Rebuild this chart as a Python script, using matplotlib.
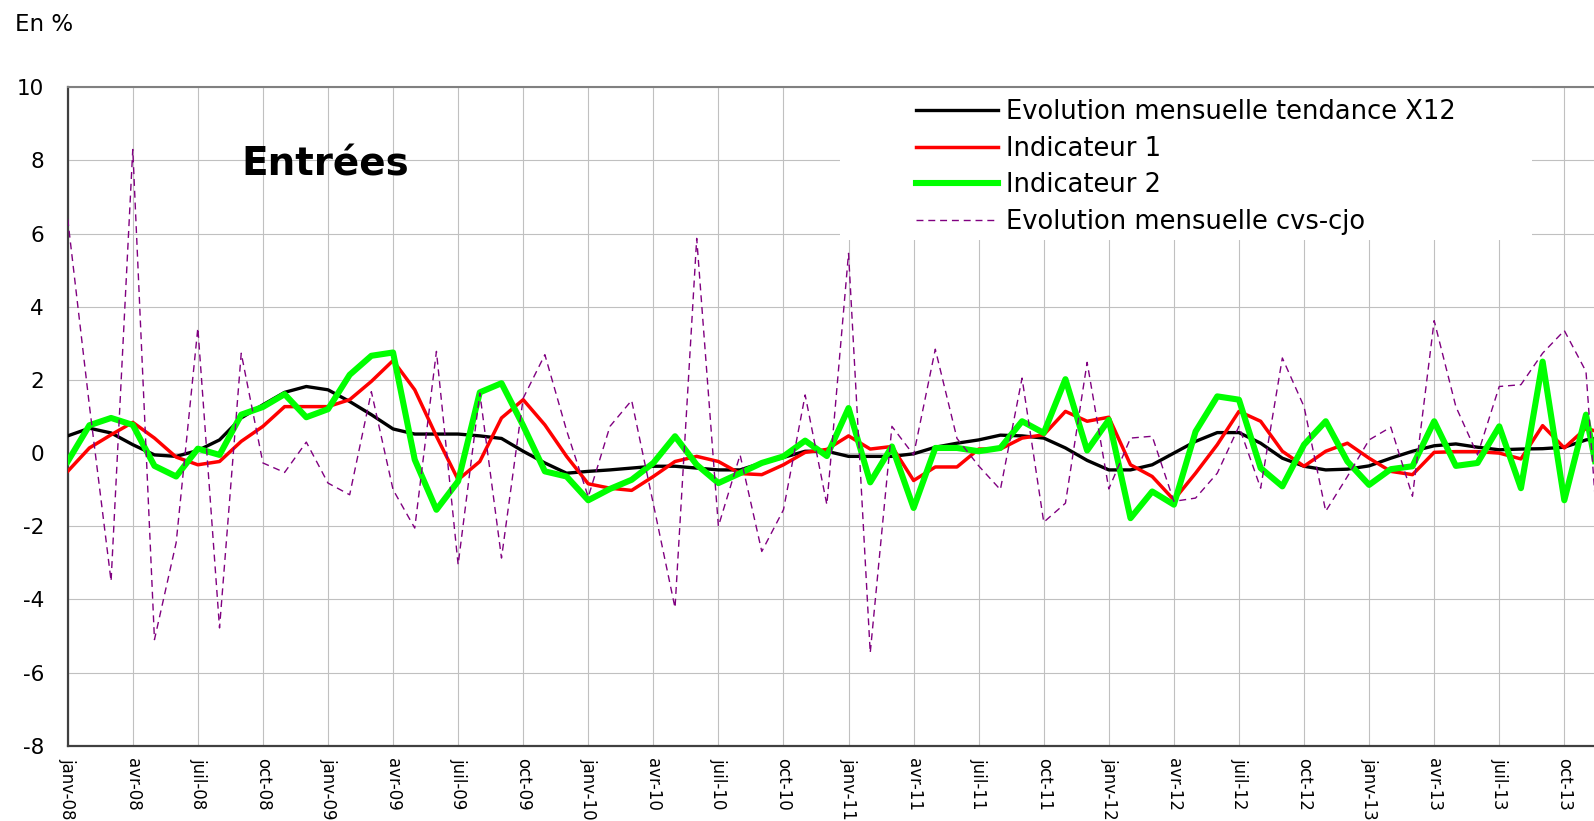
import numpy as np
import matplotlib
matplotlib.use('Agg')
import matplotlib.pyplot as plt
from matplotlib.patches import Rectangle

plt.rcParams['font.family'] = ['DejaVu Sans']
plt.rcParams['axes.unicode_minus'] = False

# monthly values, janv-08 .. dec-13
tendance = [0.47, 0.68, 0.55, 0.23, -0.05, -0.09, 0.07, 0.36, 0.96, 1.32, 1.66, 1.82,
            1.73, 1.41, 1.05, 0.66, 0.52, 0.52, 0.52, 0.47, 0.40, 0.05, -0.27, -0.55,
            -0.50, -0.46, -0.41, -0.36, -0.36, -0.41, -0.46, -0.46, -0.27, -0.12, 0.05, 0.05,
            -0.09, -0.09, -0.09, -0.02, 0.16, 0.27, 0.36, 0.49, 0.47, 0.41, 0.14, -0.20,
            -0.46, -0.46, -0.32, 0.00, 0.32, 0.56, 0.56, 0.27, -0.14, -0.36, -0.46, -0.44,
            -0.35, -0.14, 0.05, 0.20, 0.25, 0.16, 0.09, 0.11, 0.12, 0.16, 0.36, 0.45]

indic1 = [-0.50, 0.14, 0.50, 0.84, 0.41, -0.11, -0.32, -0.23, 0.32, 0.73, 1.27, 1.27,
          1.27, 1.46, 1.96, 2.53, 1.73, 0.46, -0.73, -0.23, 0.96, 1.46, 0.77, -0.09,
          -0.84, -0.96, -1.02, -0.64, -0.23, -0.09, -0.23, -0.56, -0.59, -0.32, 0.02, 0.10,
          0.47, 0.11, 0.18, -0.75, -0.38, -0.38, 0.11, 0.11, 0.41, 0.50, 1.14, 0.87,
          0.98, -0.32, -0.64, -1.28, -0.55, 0.23, 1.14, 0.87, 0.05, -0.36, 0.05, 0.27,
          -0.14, -0.50, -0.59, 0.02, 0.04, 0.04, 0.00, -0.16, 0.75, 0.14, 0.68, 0.50]

indic2 = [-0.23, 0.76, 0.96, 0.77, -0.35, -0.64, 0.12, -0.05, 1.05, 1.26, 1.61, 0.98,
          1.20, 2.14, 2.66, 2.75, -0.18, -1.55, -0.77, 1.66, 1.91, 0.75, -0.50, -0.64,
          -1.29, -0.98, -0.73, -0.27, 0.46, -0.32, -0.82, -0.55, -0.27, -0.09, 0.34, -0.08,
          1.23, -0.80, 0.18, -1.50, 0.14, 0.14, 0.05, 0.14, 0.87, 0.55, 2.02, 0.07,
          0.91, -1.78, -1.05, -1.41, 0.59, 1.55, 1.46, -0.41, -0.91, 0.23, 0.87, -0.23,
          -0.87, -0.44, -0.36, 0.87, -0.35, -0.27, 0.73, -0.96, 2.50, -1.29, 1.05, -2.00]

cvs_cjo = [6.40, 1.30, -3.50, 8.30, -5.10, -2.45, 3.42, -4.78, 2.73, -0.27, -0.53, 0.30,
           -0.82, -1.14, 1.68, -1.00, -2.05, 2.78, -3.05, 1.64, -2.87, 1.50, 2.69, 0.62,
           -1.20, 0.73, 1.44, -1.39, -4.23, 5.87, -2.00, -0.05, -2.69, -1.55, 1.59, -1.41,
           5.46, -5.46, 0.73, -0.05, 2.84, 0.40, -0.35, -1.00, 2.05, -1.89, -1.37, 2.48,
           -0.98, 0.41, 0.46, -1.32, -1.23, -0.55, 0.73, -0.96, 2.60, 1.27, -1.59, -0.64,
           0.36, 0.71, -1.18, 3.62, 1.27, -0.05, 1.82, 1.87, 2.73, 3.35, 2.23, -6.00]

tick_labels = ['janv-08', 'avr-08', 'juil-08', 'oct-08',
               'janv-09', 'avr-09', 'juil-09', 'oct-09',
               'janv-10', 'avr-10', 'juil-10', 'oct-10',
               'janv-11', 'avr-11', 'juil-11', 'oct-11',
               'janv-12', 'avr-12', 'juil-12', 'oct-12',
               'janv-13', 'avr-13', 'juil-13', 'oct-13']

W, H = 1594, 821
x0_px, top_px, bot_px = 67.7, 87.3, 745.7
px_month = 21.69

fig = plt.figure(figsize=(W / 100, H / 100), dpi=100)
ax = fig.add_axes([x0_px / W, 1 - bot_px / H, (W - x0_px) / W, (bot_px - top_px) / H])

x = np.arange(len(tendance))
ax.plot(x, tendance, color='black', lw=2.4, label='Evolution mensuelle tendance X12', zorder=3)
ax.plot(x, indic1, color='#ff0000', lw=2.5, label='Indicateur 1', zorder=3)
ax.plot(x, indic2, color='#00ff00', lw=4.4, label='Indicateur 2', zorder=3)
ax.plot(x, cvs_cjo, color='#800080', lw=1.0, ls=(0, (5, 3.5)),
        label='Evolution mensuelle cvs-cjo', zorder=3)

ax.set_xlim(0, (W - x0_px) / px_month)
ax.set_ylim(-8, 10)
ax.set_yticks(range(-8, 11, 2))
ax.set_xticks(range(0, 3 * len(tick_labels), 3))
ax.set_xticklabels(tick_labels, rotation=270, fontsize=12)
ax.tick_params(axis='y', length=0, pad=17, labelsize=15.5)
ax.tick_params(axis='x', length=0, pad=9)

ax.grid(True, color='#c0c0c0', lw=0.8)
ax.set_axisbelow(True)
ax.spines['right'].set_visible(False)
ax.spines['top'].set_color('#808080')
ax.spines['top'].set_linewidth(1.5)
for s in ['left', 'bottom']:
    ax.spines[s].set_color('#404040')
    ax.spines[s].set_linewidth(1.6)

# white block behind the legend (hides the grid there)
lx0 = (840 - x0_px) / (W - x0_px)
lx1 = (1532 - x0_px) / (W - x0_px)
ly0 = (bot_px - 240) / (bot_px - top_px)
ax.add_patch(Rectangle((lx0, ly0), lx1 - lx0, 1 - ly0, transform=ax.transAxes,
                       facecolor='white', edgecolor='none', zorder=1))

ax.legend(loc='upper left', bbox_to_anchor=(903 / W, 1 - 86 / H),
          bbox_transform=fig.transFigure, frameon=False, borderpad=0,
          fontsize=18.5, handlelength=3.2, handletextpad=0.3, labelspacing=0.42)

fig.text(15 / W, 1 - 31 / H, 'En %', fontsize=16.5, va='baseline')
fig.text(241 / W, 1 - 175 / H, 'Entrées', fontsize=28, weight='bold', va='baseline')

fig.savefig('out.png', dpi=100)
